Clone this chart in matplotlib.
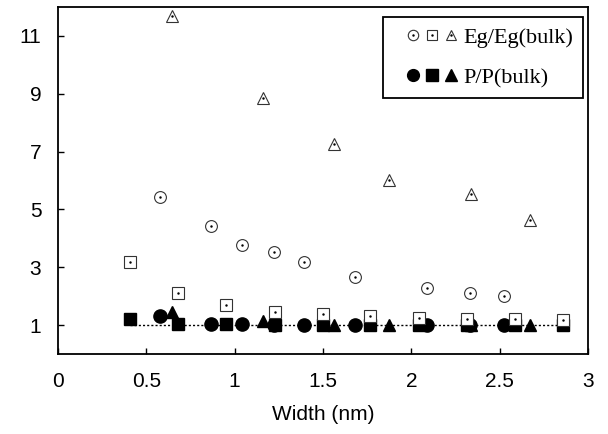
import numpy as np
import matplotlib
matplotlib.use('Agg')
import matplotlib.pyplot as plt
from matplotlib.legend_handler import HandlerTuple
from matplotlib.lines import Line2D

# band gap ratio Eg/Eg(bulk) for the three wire families
w_circ = [0.578, 0.867, 1.041, 1.22, 1.395, 1.683, 2.09, 2.33, 2.523]
eg_circ = [5.42, 4.41, 3.78, 3.52, 3.18, 2.67, 2.30, 2.12, 1.99]
w_sq = [0.408, 0.682, 0.952, 1.229, 1.50, 1.768, 2.041, 2.316, 2.585, 2.86]
eg_sq = [3.19, 2.10, 1.69, 1.46, 1.38, 1.32, 1.26, 1.22, 1.20, 1.18]
w_tri = [0.648, 1.158, 1.56, 1.872, 2.338, 2.674]
eg_tri = [11.69, 8.86, 7.25, 6.02, 5.54, 4.64]

# P/P(bulk)
p_circ = [1.32, 1.05, 1.05, 1.02, 1.01, 1.0, 1.0, 1.0, 1.0]
p_sq = [1.21, 1.03, 1.03, 1.02, 1.0, 1.0, 1.0, 1.0, 1.0, 1.0]
p_tri = [1.44, 1.15, 1.02, 1.0, 1.0, 1.0]

xticks = [0, 0.5, 1, 1.5, 2, 2.5, 3]
xticklabels = ['0', '0.5', '1', '1.5', '2', '2.5', '3']
yticks = [1, 3, 5, 7, 9, 11]

plt.rcParams['font.family'] = ['Liberation Sans', 'DejaVu Sans']

fig = plt.figure(figsize=(6.08, 4.34), dpi=100)
ax = fig.add_axes([0.0954, 0.1843, 0.8716, 0.7996])

# reference line at 1
ax.hlines(1, w_sq[0], w_sq[-1], colors='k', linestyles=(0, (1.5, 1.5)), lw=1.0, zorder=1)

oc = dict(ls='none', mfc='white', mec='#333333', mew=0.8, zorder=3)
dot = dict(ls='none', marker='.', ms=1.5, color='k', zorder=4)
fl = dict(ls='none', color='k', zorder=2)

ax.plot(w_circ, p_circ, 'o', ms=9.5, **fl)
ax.plot(w_sq, p_sq, 's', ms=9, **fl)
ax.plot(w_tri, p_tri, '^', ms=9, **fl)

ax.plot(w_circ, eg_circ, 'o', ms=8.5, **oc)
ax.plot(w_sq, eg_sq, 's', ms=8.5, **oc)
ax.plot(w_tri, eg_tri, '^', ms=8, **oc)
for xs, ys in [(w_circ, eg_circ), (w_sq, eg_sq), (w_tri, eg_tri)]:
    ax.plot(xs, ys, **dot)

ax.set_xlim(0, 3)
ax.set_ylim(0, 12)
ax.set_xticks(xticks)
ax.set_xticklabels(xticklabels)
ax.set_yticks(yticks)
ax.tick_params(direction='in', length=4.5, width=1, labelsize=15, top=False, right=False)
ax.tick_params(axis='x', pad=13)
ax.tick_params(axis='y', pad=12)
for s in ax.spines.values():
    s.set_linewidth(1.3)
ax.set_xlabel('Width (nm)', fontsize=15, labelpad=10)


# legend: three markers per row, each open marker with its centre dot
class Group(tuple):
    pass


def h(m, ms, **kw):
    return Line2D([], [], marker=m, ms=ms, ls='none', **kw)


ok = dict(mfc='white', mec='#333333', mew=0.8)
d = h('.', 1.5, color='k')
gap = Line2D([], [], ls='none')
eg_h = (gap, Group((h('o', 7.5, **ok), d)), Group((h('s', 7.5, **ok), d)),
        Group((h('^', 7, **ok), d)))
p_h = (gap, h('o', 8.5, color='k'), h('s', 8, color='k'), h('^', 8, color='k'))
leg = ax.legend([eg_h, p_h], ['Eg/Eg(bulk)', 'P/P(bulk)'],
                handler_map={tuple: HandlerTuple(ndivide=None, pad=0.765),
                             Group: HandlerTuple(ndivide=1)},
                loc='upper right', bbox_to_anchor=(0.9906, 0.971), borderaxespad=0,
                prop={'family': 'Liberation Serif', 'size': 16},
                handlelength=2.66, handletextpad=0.5, labelspacing=0.9,
                borderpad=0.45, fancybox=False, edgecolor='k', framealpha=1)
leg.get_frame().set_linewidth(1.3)

fig.savefig('out.png', dpi=100)
